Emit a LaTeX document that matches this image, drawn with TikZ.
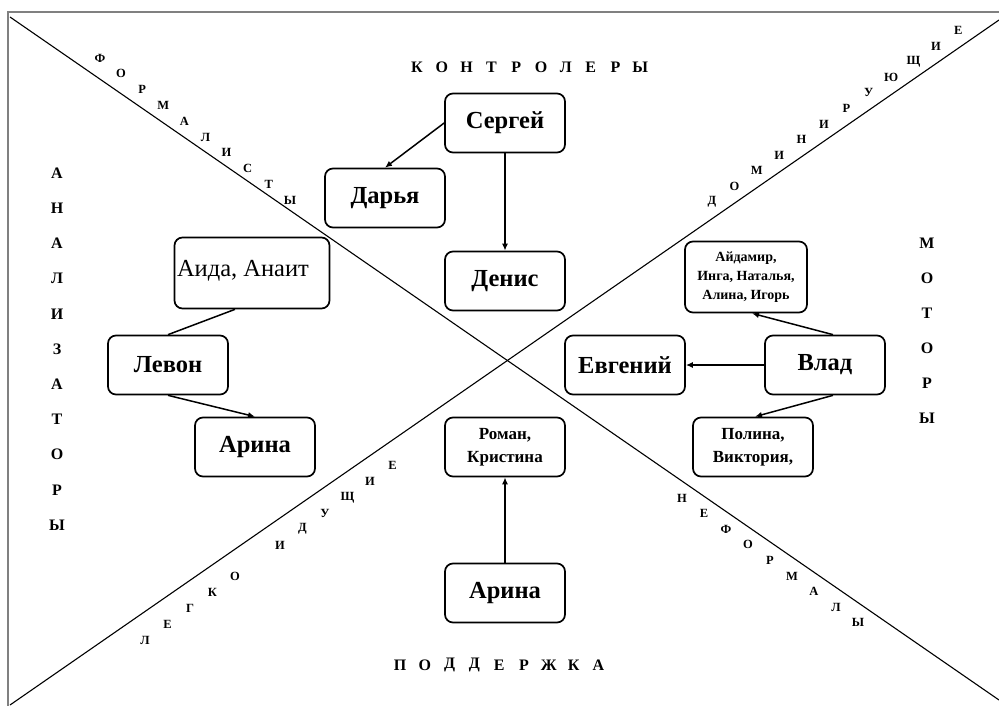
\documentclass[tikz,border=0pt]{standalone}
\usepackage{fontspec}
\setmainfont{Liberation Serif}
\usetikzlibrary{positioning,arrows.meta}
\tikzset{person/.style={draw, line width=1.7pt, rounded corners=8pt, minimum width=120pt, minimum height=59pt, inner sep=2pt, align=center, font=\fontsize{24.5}{28}\selectfont\bfseries}}
\tikzset{group/.style={person, font=\fontsize{17}{22.5}\selectfont\bfseries}}
\tikzset{arr/.style={draw, line width=1.5pt, -{Latex[length=7pt,width=6pt]}}}
\tikzset{letter/.style={inner sep=0pt, font=\fontsize{16}{16}\selectfont\bfseries}}
\tikzset{dletter/.style={inner sep=0pt, font=\fontsize{12.5}{13}\selectfont\bfseries}}
\tikzset{split/.style={line width=1.1pt}}

\begin{document}
\begin{tikzpicture}[x=1pt,y=-1pt]
\useasboundingbox (0,0) rectangle (999,706);
\draw[gray, line width=1.2pt] (999,12) -- (8,12) -- (8,706);
% the two diagonals
\coordinate (tl) at (10,17);
\coordinate (br) at (999,700);
\coordinate (bl) at (10,705);
\coordinate (tr) at (999,20);
\draw[split] (tl) -- (br);
\draw[split] (bl) -- (tr);

% quadrant titles
\foreach \ch [count=\i from 0] in {К,О,Н,Т,Р,О,Л,Е,Р,Ы}
	\node[letter] (kontr\i) at (417+24.8*\i, 67) {\ch};
\foreach \ch [count=\i from 0] in {П,О,Д,Д,Е,Р,Ж,К,А}
	\node[letter] (podd\i) at (400+24.8*\i, 665) {\ch};
\foreach \ch [count=\i from 0] in {А,Н,А,Л,И,З,А,Т,О,Р,Ы}
	\node[letter] (anal\i) at (57, 173+35.2*\i) {\ch};
\foreach \ch [count=\i from 0] in {М,О,Т,О,Р,Ы}
	\node[letter] (motor\i) at (927, 243+35*\i) {\ch};

% along the diagonals
\foreach \ch [count=\i from 0] in {Ф,О,Р,М,А,Л,И,С,Т,Ы}
	\node[dletter] (form\i) at (100+21.1*\i, 58+15.8*\i) {\ch};
\foreach \ch [count=\i from 0] in {Д,О,М,И,Н,И,Р,У,Ю,Щ,И,Е}
	\node[dletter] (domin\i) at (712+22.4*\i, 202-15.6*\i) {\ch};
\foreach \ch [count=\i from 0] in {Л,Е,Г,К,О}
	\node[dletter] (legko\i) at (145+22.5*\i, 640-15.9*\i) {\ch};
\foreach \ch [count=\i from 0] in {И,Д,У,Щ,И,Е}
	\node[dletter] (idush\i) at (280+22.5*\i, 545-15.9*\i) {\ch};
\foreach \ch [count=\i from 0] in {Н,Е,Ф,О,Р,М,А,Л,Ы}
	\node[dletter] (neform\i) at (682+22*\i, 498+15.6*\i) {\ch};

% people
\node[person] (sergey) at (505,123) {Сергей};
\node[person] (darya) at (385,198) {Дарья};
\node[person] (denis) at (505,281) {Денис};
\node[person, font=\fontsize{24.5}{28}\selectfont, minimum width=155pt, minimum height=71pt] (aida) at (252,273) {\raisebox{10pt}{Аида, Анаит}\hspace*{18pt}};
\node[person] (levon) at (168,365) {Левон};
\node[person] (arinaL) at (255,447) {Арина};
\node[group] (roman) at (505,447) {Роман,\\Кристина};
\node[person] (arinaB) at (505,593) {Арина};
\node[group, font=\fontsize{14}{19}\selectfont\bfseries, minimum width=122pt, minimum height=71pt] (aydamir) at (746,277) {Айдамир,\\Инга, Наталья,\\Алина, Игорь};
\node[person] (evgeniy) at (625,365) {Евгений};
\node[person] (vlad) at (825,365) {Влад};
\node[group] (polina) at (753,447) {Полина,\\Виктория,};

\draw[arr] (sergey.west) -- (darya.north);
\draw[arr] (sergey.south) -- (denis.north);
\draw[line width=1.5pt] ([xshift=-17pt]aida.south) -- (levon.north);
\draw[arr] (levon.south) -- (arinaL.north);
\draw[arr] (arinaB.north) -- (roman.south);
\draw[arr] ([xshift=8pt]vlad.north) -- ([xshift=6pt]aydamir.south);
\draw[arr] (vlad.west) -- (evgeniy.east);
\draw[arr] ([xshift=8pt]vlad.south) -- ([xshift=2pt]polina.north);
\end{tikzpicture}
\end{document}
